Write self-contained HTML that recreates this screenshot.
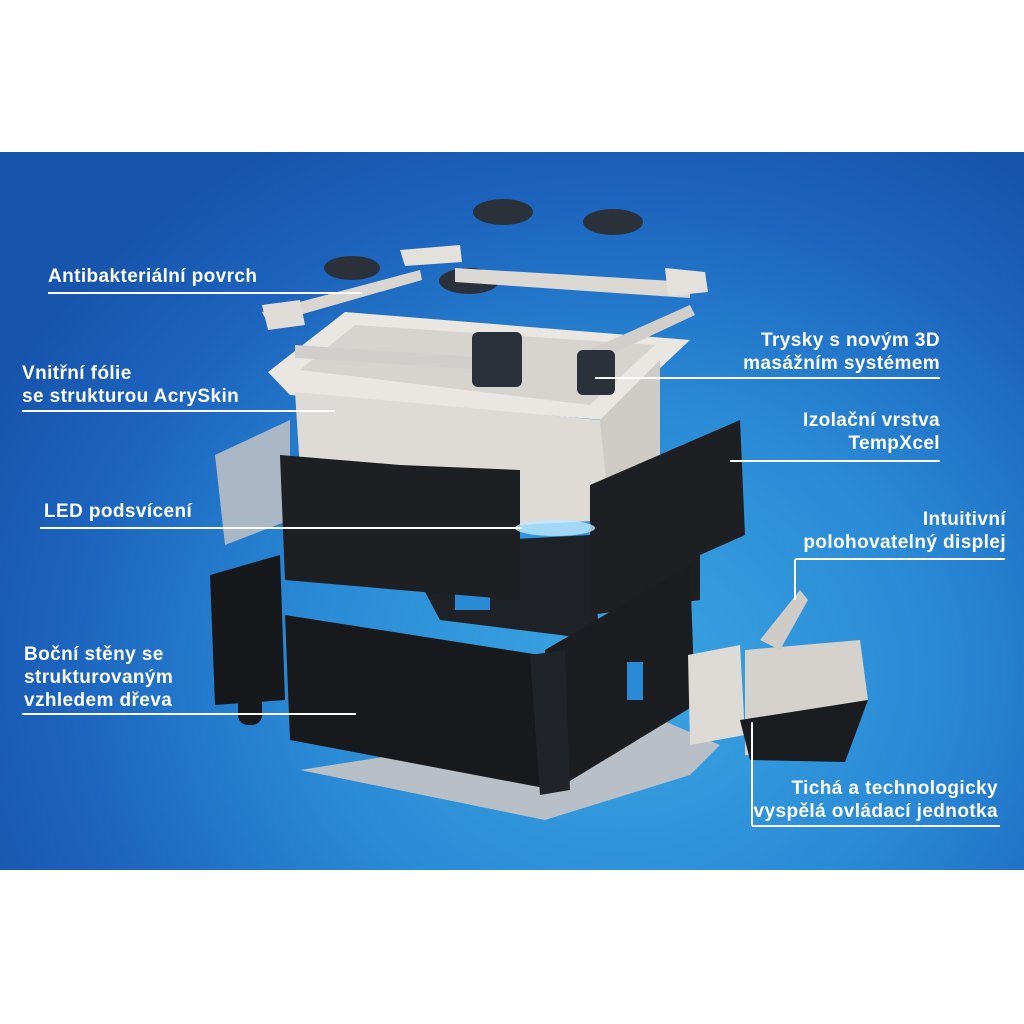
<!DOCTYPE html>
<html><head><meta charset="utf-8"><style>
html,body{margin:0;padding:0;background:#fff;}
#c{position:relative;width:1024px;height:1024px;overflow:hidden;background:#fff;}
#band{position:absolute;left:0;top:152px;width:1024px;height:718px;background:radial-gradient(ellipse 700px 600px at 620px 520px,#3aa6e2 0%,#2a8ad6 45%,#1c63bd 80%,#1755ad 100%);}
svg{position:absolute;left:0;top:0;}
.t{position:absolute;color:#fff;font-family:"Liberation Sans",sans-serif;font-weight:bold;font-size:19px;letter-spacing:0.4px;line-height:23px;white-space:nowrap;}
.r{text-align:right;}
</style></head><body><div id="c">
<div id="band"></div>
<svg width="1024" height="1024" viewBox="0 0 1024 1024">
<polygon points="300,770 650,715 720,745 690,775 545,820" fill="#b8bfc6"/>
<ellipse cx="503" cy="212" rx="30" ry="13" fill="#2b313b"/>
<ellipse cx="613" cy="222" rx="30" ry="13" fill="#2b313b"/>
<ellipse cx="352" cy="268" rx="28" ry="12" fill="#2b313b"/>
<ellipse cx="469" cy="281" rx="30" ry="13" fill="#2b313b"/>
<polygon points="262,312 420,270 422,280 268,324" fill="#d9d6d2"/>
<polygon points="400,250 460,245 462,262 405,266" fill="#e4e1dd"/>
<polygon points="455,268 690,282 690,298 455,282" fill="#dcd8d4"/>
<polygon points="665,268 705,272 708,292 668,296" fill="#e4e1dd"/>
<polygon points="262,305 300,300 305,325 268,330" fill="#e0ddd9"/>
<polygon points="268,372 345,312 690,340 605,420 290,395" fill="#eae7e3"/>
<polygon points="300,370 355,325 655,345 590,405" fill="#d7d3cf"/>
<polygon points="295,392 600,420 660,360 660,470 610,520 520,525 300,470" fill="#dedbd7"/>
<polygon points="600,420 660,360 660,470 610,520" fill="#cfcbc7"/>
<polygon points="295,345 520,360 520,372 295,358" fill="#d2cecb"/>
<polygon points="578,355 690,305 695,315 582,368" fill="#d2cecb"/>
<rect x="472" y="332" width="50" height="55" rx="6" fill="#2b313b"/>
<rect x="577" y="350" width="38" height="45" rx="6" fill="#2b313b"/>
<polygon points="215,455 290,420 290,520 225,545" fill="#a9b7c6"/>
<polygon points="400,545 590,535 600,640 440,620" fill="#1e2125"/>
<rect x="455" y="565" width="35" height="45" fill="#2a8ad6"/>
<polygon points="280,455 400,465 520,470 520,600 400,590 285,580" fill="#1d1f22"/>
<polygon points="590,485 740,420 745,535 700,555 700,600 590,615" fill="#1d1f22"/>
<ellipse cx="555" cy="528" rx="40" ry="8" fill="#bfe8ff" opacity=".8"/>
<polygon points="210,575 280,555 285,700 215,705" fill="#16181b"/>
<polygon points="545,650 690,565 695,705 555,790" fill="#1b1d20"/>
<rect x="627" y="662" width="16" height="38" fill="#2a8ad6"/>
<polygon points="285,615 540,655 555,790 290,740" fill="#17191c"/>
<polygon points="530,655 565,650 570,790 540,795" fill="#202327"/>
<rect x="238" y="605" width="24" height="120" rx="10" fill="#16181b"/>
<polygon points="688,655 740,645 745,735 690,745" fill="#dedbd7"/>
<polygon points="745,650 860,640 868,700 840,760 745,755" fill="#d5d2ce"/>
<polygon points="740,720 868,700 845,762 750,760" fill="#1a1c1f"/>
<polygon points="760,640 800,590 808,600 780,650" fill="#cfccc8"/>
<g stroke="#fff" stroke-width="2">
<line x1="48" y1="293" x2="362" y2="293"/>
<line x1="22" y1="411" x2="335" y2="411"/>
<line x1="40" y1="528" x2="522" y2="528"/>
<line x1="22" y1="714" x2="356" y2="714"/>
<line x1="595" y1="378" x2="940" y2="378"/>
<line x1="730" y1="461" x2="940" y2="461"/>
<line x1="795" y1="559" x2="1005" y2="559"/>
<line x1="795" y1="559" x2="795" y2="600"/>
<line x1="752" y1="826" x2="1000" y2="826"/>
<line x1="752" y1="826" x2="752" y2="722"/>
</g>
</svg>
<div class="t" style="left:48px;top:265px">Antibakteriální povrch</div>
<div class="t" style="left:22px;top:362px">Vnitřní fólie<br>se strukturou AcrySkin</div>
<div class="t" style="left:44px;top:500px">LED podsvícení</div>
<div class="t" style="left:24px;top:643px">Boční stěny se<br>strukturovaným<br>vzhledem dřeva</div>
<div class="t r" style="right:84px;top:329px">Trysky s novým 3D<br>masážním systémem</div>
<div class="t r" style="right:84px;top:409px">Izolační vrstva<br>TempXcel</div>
<div class="t r" style="right:18px;top:508px">Intuitivní<br>polohovatelný displej</div>
<div class="t r" style="right:26px;top:777px">Tichá a technologicky<br>vyspělá ovládací jednotka</div>
</div></body></html>
